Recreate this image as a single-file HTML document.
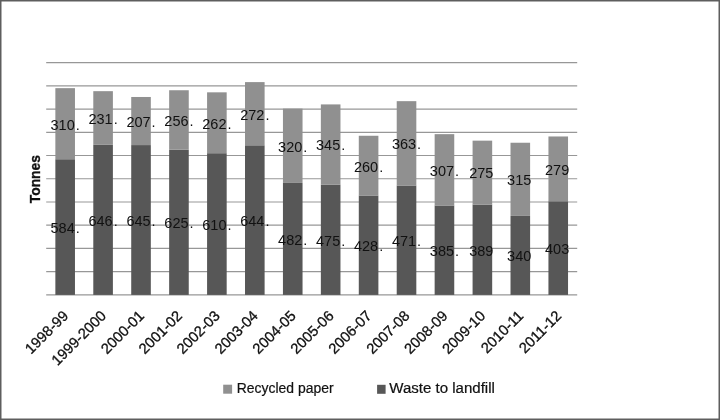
<!DOCTYPE html><html><head><meta charset="utf-8"><title>Chart</title><style>html,body{margin:0;padding:0;background:#fff}svg{display:block}text{font-family:"Liberation Sans","DejaVu Sans",sans-serif;fill:#111}</style></head><body>
<svg width="720" height="420" viewBox="0 0 720 420">
<rect x="0" y="0" width="720" height="420" fill="#fff"/>
<rect x="0.75" y="0.75" width="718.5" height="418.5" fill="none" stroke="#5e5e5e" stroke-width="1.5"/>
<line x1="46.2" y1="294.90" x2="577.2" y2="294.90" stroke="#979797" stroke-width="1.2"/>
<line x1="46.2" y1="271.67" x2="577.2" y2="271.67" stroke="#979797" stroke-width="1.2"/>
<line x1="46.2" y1="248.44" x2="577.2" y2="248.44" stroke="#979797" stroke-width="1.2"/>
<line x1="46.2" y1="225.21" x2="577.2" y2="225.21" stroke="#979797" stroke-width="1.2"/>
<line x1="46.2" y1="201.98" x2="577.2" y2="201.98" stroke="#979797" stroke-width="1.2"/>
<line x1="46.2" y1="178.75" x2="577.2" y2="178.75" stroke="#979797" stroke-width="1.2"/>
<line x1="46.2" y1="155.52" x2="577.2" y2="155.52" stroke="#979797" stroke-width="1.2"/>
<line x1="46.2" y1="132.29" x2="577.2" y2="132.29" stroke="#979797" stroke-width="1.2"/>
<line x1="46.2" y1="109.06" x2="577.2" y2="109.06" stroke="#979797" stroke-width="1.2"/>
<line x1="46.2" y1="85.83" x2="577.2" y2="85.83" stroke="#979797" stroke-width="1.2"/>
<line x1="46.2" y1="62.60" x2="577.2" y2="62.60" stroke="#979797" stroke-width="1.2"/>
<rect x="55.36" y="159.24" width="19.6" height="135.66" fill="#575757"/>
<rect x="55.36" y="88.15" width="19.6" height="71.08" fill="#909090"/>
<rect x="93.29" y="144.83" width="19.6" height="150.07" fill="#575757"/>
<rect x="93.29" y="91.17" width="19.6" height="53.66" fill="#909090"/>
<rect x="131.22" y="145.07" width="19.6" height="149.83" fill="#575757"/>
<rect x="131.22" y="96.98" width="19.6" height="48.09" fill="#909090"/>
<rect x="169.15" y="149.71" width="19.6" height="145.19" fill="#575757"/>
<rect x="169.15" y="90.24" width="19.6" height="59.47" fill="#909090"/>
<rect x="207.08" y="153.20" width="19.6" height="141.70" fill="#575757"/>
<rect x="207.08" y="92.33" width="19.6" height="60.86" fill="#909090"/>
<rect x="245.01" y="145.30" width="19.6" height="149.60" fill="#575757"/>
<rect x="245.01" y="82.11" width="19.6" height="63.19" fill="#909090"/>
<rect x="282.94" y="182.93" width="19.6" height="111.97" fill="#575757"/>
<rect x="282.94" y="108.60" width="19.6" height="74.34" fill="#909090"/>
<rect x="320.86" y="184.56" width="19.6" height="110.34" fill="#575757"/>
<rect x="320.86" y="104.41" width="19.6" height="80.14" fill="#909090"/>
<rect x="358.79" y="195.48" width="19.6" height="99.42" fill="#575757"/>
<rect x="358.79" y="135.77" width="19.6" height="59.70" fill="#909090"/>
<rect x="396.72" y="185.49" width="19.6" height="109.41" fill="#575757"/>
<rect x="396.72" y="101.16" width="19.6" height="84.32" fill="#909090"/>
<rect x="434.65" y="205.46" width="19.6" height="89.44" fill="#575757"/>
<rect x="434.65" y="134.15" width="19.6" height="71.32" fill="#909090"/>
<rect x="472.58" y="204.54" width="19.6" height="90.36" fill="#575757"/>
<rect x="472.58" y="140.65" width="19.6" height="63.88" fill="#909090"/>
<rect x="510.51" y="215.92" width="19.6" height="78.98" fill="#575757"/>
<rect x="510.51" y="142.74" width="19.6" height="73.17" fill="#909090"/>
<rect x="548.44" y="201.28" width="19.6" height="93.62" fill="#575757"/>
<rect x="548.44" y="136.47" width="19.6" height="64.81" fill="#909090"/>
<text x="65.16" y="232.97" font-size="14.5" fill="#000" text-anchor="middle">584<tspan dx="1">.</tspan></text>
<text x="65.16" y="130.09" font-size="14.5" fill="#000" text-anchor="middle">310<tspan dx="1">.</tspan></text>
<text x="103.09" y="225.77" font-size="14.5" fill="#000" text-anchor="middle">646<tspan dx="1">.</tspan></text>
<text x="103.09" y="123.90" font-size="14.5" fill="#000" text-anchor="middle">231<tspan dx="1">.</tspan></text>
<text x="141.02" y="225.88" font-size="14.5" fill="#000" text-anchor="middle">645<tspan dx="1">.</tspan></text>
<text x="141.02" y="126.92" font-size="14.5" fill="#000" text-anchor="middle">207<tspan dx="1">.</tspan></text>
<text x="178.95" y="228.21" font-size="14.5" fill="#000" text-anchor="middle">625<tspan dx="1">.</tspan></text>
<text x="178.95" y="125.88" font-size="14.5" fill="#000" text-anchor="middle">256<tspan dx="1">.</tspan></text>
<text x="216.88" y="229.95" font-size="14.5" fill="#000" text-anchor="middle">610<tspan dx="1">.</tspan></text>
<text x="216.88" y="128.67" font-size="14.5" fill="#000" text-anchor="middle">262<tspan dx="1">.</tspan></text>
<text x="254.81" y="226.00" font-size="14.5" fill="#000" text-anchor="middle">644<tspan dx="1">.</tspan></text>
<text x="254.81" y="119.61" font-size="14.5" fill="#000" text-anchor="middle">272<tspan dx="1">.</tspan></text>
<text x="292.74" y="244.82" font-size="14.5" fill="#000" text-anchor="middle">482<tspan dx="1">.</tspan></text>
<text x="292.74" y="151.66" font-size="14.5" fill="#000" text-anchor="middle">320<tspan dx="1">.</tspan></text>
<text x="330.66" y="245.63" font-size="14.5" fill="#000" text-anchor="middle">475<tspan dx="1">.</tspan></text>
<text x="330.66" y="150.39" font-size="14.5" fill="#000" text-anchor="middle">345<tspan dx="1">.</tspan></text>
<text x="368.59" y="251.09" font-size="14.5" fill="#000" text-anchor="middle">428<tspan dx="1">.</tspan></text>
<text x="368.59" y="172.13" font-size="14.5" fill="#000" text-anchor="middle">260<tspan dx="1">.</tspan></text>
<text x="406.52" y="246.09" font-size="14.5" fill="#000" text-anchor="middle">471<tspan dx="1">.</tspan></text>
<text x="406.52" y="149.22" font-size="14.5" fill="#000" text-anchor="middle">363<tspan dx="1">.</tspan></text>
<text x="444.45" y="256.08" font-size="14.5" fill="#000" text-anchor="middle">385<tspan dx="1">.</tspan></text>
<text x="444.45" y="175.71" font-size="14.5" fill="#000" text-anchor="middle">307<tspan dx="1">.</tspan></text>
<text x="481.28" y="255.62" font-size="14.5" fill="#000" text-anchor="middle">389</text>
<text x="481.28" y="178.49" font-size="14.5" fill="#000" text-anchor="middle">275</text>
<text x="519.21" y="261.31" font-size="14.5" fill="#000" text-anchor="middle">340</text>
<text x="519.21" y="185.23" font-size="14.5" fill="#000" text-anchor="middle">315</text>
<text x="557.14" y="253.99" font-size="14.5" fill="#000" text-anchor="middle">403</text>
<text x="557.14" y="174.78" font-size="14.5" fill="#000" text-anchor="middle">279</text>
<text transform="translate(69.16,316.60) rotate(-45)" font-size="14.7" stroke="#111" stroke-width="0.3" text-anchor="end">1998-99</text>
<text transform="translate(107.09,316.60) rotate(-45)" font-size="14.7" stroke="#111" stroke-width="0.3" text-anchor="end">1999-2000</text>
<text transform="translate(145.02,316.60) rotate(-45)" font-size="14.7" stroke="#111" stroke-width="0.3" text-anchor="end">2000-01</text>
<text transform="translate(182.95,316.60) rotate(-45)" font-size="14.7" stroke="#111" stroke-width="0.3" text-anchor="end">2001-02</text>
<text transform="translate(220.88,316.60) rotate(-45)" font-size="14.7" stroke="#111" stroke-width="0.3" text-anchor="end">2002-03</text>
<text transform="translate(258.81,316.60) rotate(-45)" font-size="14.7" stroke="#111" stroke-width="0.3" text-anchor="end">2003-04</text>
<text transform="translate(296.74,316.60) rotate(-45)" font-size="14.7" stroke="#111" stroke-width="0.3" text-anchor="end">2004-05</text>
<text transform="translate(334.66,316.60) rotate(-45)" font-size="14.7" stroke="#111" stroke-width="0.3" text-anchor="end">2005-06</text>
<text transform="translate(372.59,316.60) rotate(-45)" font-size="14.7" stroke="#111" stroke-width="0.3" text-anchor="end">2006-07</text>
<text transform="translate(410.52,316.60) rotate(-45)" font-size="14.7" stroke="#111" stroke-width="0.3" text-anchor="end">2007-08</text>
<text transform="translate(448.45,316.60) rotate(-45)" font-size="14.7" stroke="#111" stroke-width="0.3" text-anchor="end">2008-09</text>
<text transform="translate(486.38,316.60) rotate(-45)" font-size="14.7" stroke="#111" stroke-width="0.3" text-anchor="end">2009-10</text>
<text transform="translate(524.31,316.60) rotate(-45)" font-size="14.7" stroke="#111" stroke-width="0.3" text-anchor="end">2010-11</text>
<text transform="translate(562.24,316.60) rotate(-45)" font-size="14.7" stroke="#111" stroke-width="0.3" text-anchor="end">2011-12</text>
<text transform="translate(40.1,179.15) rotate(-90)" font-size="15" font-weight="bold" text-anchor="middle" stroke="#111" stroke-width="0.35" textLength="48.1" lengthAdjust="spacingAndGlyphs">Tonnes</text>
<rect x="223.2" y="384.7" width="8.9" height="9" fill="#909090"/>
<text x="236.8" y="393.3" font-size="14" stroke="#111" stroke-width="0.2" textLength="96.8" lengthAdjust="spacingAndGlyphs">Recycled paper</text>
<rect x="377.1" y="384.8" width="8.5" height="9" fill="#575757"/>
<text x="389.3" y="393.3" font-size="14" stroke="#111" stroke-width="0.2" textLength="105.6" lengthAdjust="spacingAndGlyphs">Waste to landfill</text>
</svg></body></html>
